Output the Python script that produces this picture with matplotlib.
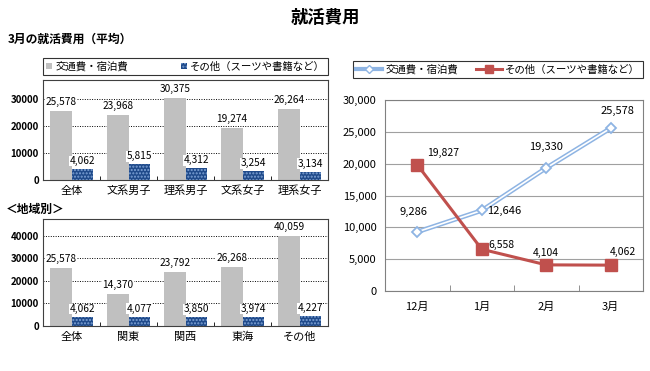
import numpy as np
import matplotlib
matplotlib.use('Agg')
import matplotlib.pyplot as plt
from matplotlib.lines import Line2D
from matplotlib.patches import Patch

plt.rcParams['font.family'] = ['Noto Sans CJK JP', 'DejaVu Sans']
plt.rcParams['hatch.linewidth'] = 1.0

# data
cats_top = ['全体', '文系男子', '理系男子', '文系女子', '理系女子']
travel_top = [25578, 23968, 30375, 19274, 26264]
other_top = [4062, 5815, 4312, 3254, 3134]

cats_reg = ['全体', '関東', '関西', '東海', 'その他']
travel_reg = [25578, 14370, 23792, 26268, 40059]
other_reg = [4062, 4077, 3850, 3974, 4227]

months = ['12月', '1月', '2月', '3月']
travel_m = [9286, 12646, 19330, 25578]
other_m = [19827, 6558, 4104, 4062]

lab_travel = '交通費・宿泊費'
lab_other = 'その他（スーツや書籍など）'

W, H = 650, 371
def rect(l, t, r, b):
    return [l / W, 1 - b / H, (r - l) / W, (b - t) / H]

gray = '#C0C0C0'
navy = '#1F4A8A'
dots = '#7FA3D6'
red = '#C0504D'
lblue = '#8EB4E3'

fig = plt.figure(figsize=(6.5, 3.71), dpi=100)
fig.patch.set_facecolor('white')

fig.text(0.5, 1 - 18 / H, '就活費用', ha='center', va='center', fontsize=12.5, fontweight='bold')
fig.text(8 / W, 1 - 39 / H, '3月の就活費用（平均）', ha='left', va='center', fontsize=8.5, fontweight='bold')
fig.text(6 / W, 1 - 209 / H, '＜地域別＞', ha='left', va='center', fontsize=8.5, fontweight='bold')

def bar_panel(ax, cats, a, b, ymax, ticks):
    x = np.arange(len(cats))
    w = 0.37
    ax.bar(x - w / 2, a, w, color=gray, zorder=2)
    ax.bar(x + w / 2, b, w, color=navy, edgecolor=dots, hatch='.....', linewidth=0, zorder=2)
    for xi, v in zip(x, a):
        ax.annotate(f'{v:,}', (xi - w / 2, v), xytext=(0, 4), textcoords='offset pixels',
                    ha='center', va='bottom', fontsize=7.3, annotation_clip=False,
                    bbox=dict(facecolor='white', edgecolor='none', pad=0.2), zorder=3)
    for xi, v in zip(x, b):
        ax.annotate(f'{v:,}', (xi + w / 2, v), xytext=(0, 3), textcoords='offset pixels',
                    ha='center', va='bottom', fontsize=7.3,
                    bbox=dict(facecolor='white', edgecolor='none', pad=0.2), zorder=3)
    ax.set_xlim(-0.5, len(cats) - 0.5)
    ax.set_ylim(0, ymax)
    ax.set_yticks(ticks)
    ax.set_yticklabels([str(t) for t in ticks], fontsize=7, fontweight='bold')
    ax.set_xticks(x)
    ax.set_xticklabels(cats, fontsize=8)
    ax.set_xticks(np.arange(0.5, len(cats) - 0.5), minor=True)
    ax.tick_params(axis='x', which='major', length=0, pad=4)
    ax.tick_params(axis='x', which='minor', length=3, direction='in')
    ax.tick_params(axis='y', length=0, pad=3)
    ax.grid(axis='y', linestyle=(0, (1, 1.5)), color='black', linewidth=0.7, zorder=0)
    for s in ax.spines.values():
        s.set_color('#404040')
        s.set_linewidth(0.8)

ax1 = fig.add_axes(rect(43, 80, 328, 180))
bar_panel(ax1, cats_top, travel_top, other_top, 37000, [0, 10000, 20000, 30000])

ax2 = fig.add_axes(rect(43, 219, 328, 326))
bar_panel(ax2, cats_reg, travel_reg, other_reg, 47500, [0, 10000, 20000, 30000, 40000])

h1 = [Patch(facecolor=gray), Patch(facecolor=navy, edgecolor=dots, hatch='.....', linewidth=0)]
leg1 = fig.legend(h1, [lab_travel, lab_other], loc='center', ncol=2,
                  bbox_to_anchor=rect(43, 57, 328, 76), mode='expand', fontsize=7.5,
                  frameon=True, fancybox=False, edgecolor='black', borderaxespad=0,
                  handlelength=0.6, handleheight=0.6, handletextpad=0.3, borderpad=0.3)
leg1.get_frame().set_linewidth(0.8)

# line chart
ax3 = fig.add_axes(rect(385, 100, 643, 291))
xm = np.arange(len(months))
ax3.plot(xm, travel_m, color=lblue, lw=3.4, zorder=3)
ax3.plot(xm, travel_m, color='white', lw=1.2, zorder=4)
ax3.plot(xm, travel_m, linestyle='none', marker='D', markersize=5.5, markerfacecolor='white',
         markeredgecolor=lblue, markeredgewidth=1.3, zorder=5)
ax3.plot(xm, other_m, color=red, lw=2.2, marker='s', markersize=8, zorder=5)

t_off = [(-4, 20), (22, 0), (0, 21), (7, 17)]
for xi, v, (dx, dy) in zip(xm, travel_m, t_off):
    ax3.annotate(f'{v:,}', (xi, v), xytext=(dx, dy), textcoords='offset pixels',
                 ha='center', va='center', fontsize=8)
o_off = [(26, 12), (20, 4), (0, 12), (12, 13)]
for xi, v, (dx, dy) in zip(xm, other_m, o_off):
    ax3.annotate(f'{v:,}', (xi, v), xytext=(dx, dy), textcoords='offset pixels',
                 ha='center', va='center', fontsize=7.5)

ax3.set_xlim(-0.5, 3.5)
ax3.set_ylim(0, 30000)
ax3.set_yticks(np.arange(0, 30001, 5000))
ax3.set_yticklabels([f'{t:,}' for t in range(0, 30001, 5000)], fontsize=8)
ax3.set_xticks(xm)
ax3.set_xticklabels(months, fontsize=8)
ax3.set_xticks([0.5, 1.5, 2.5], minor=True)
ax3.tick_params(axis='x', which='major', length=0, pad=8)
ax3.tick_params(axis='x', which='minor', length=4, direction='in', color='#808080')
ax3.tick_params(axis='y', length=0, pad=6)
ax3.grid(axis='y', color='#A0A0A0', linewidth=0.8, zorder=0)
for s in ax3.spines.values():
    s.set_color('#808080')
    s.set_linewidth(0.8)

h3 = [Line2D([], [], color=lblue, lw=3, marker='D', markersize=4, markerfacecolor='white',
             markeredgecolor=lblue),
      Line2D([], [], color=red, lw=2.2, marker='s', markersize=6)]
leg3 = fig.legend(h3, [lab_travel, lab_other], loc='center', ncol=2,
                  bbox_to_anchor=rect(353, 59, 643, 80), mode='expand', fontsize=7.5,
                  frameon=True, fancybox=False, edgecolor='black', borderaxespad=0,
                  handlelength=2.5, handletextpad=0.3, borderpad=0.3)
leg3.get_frame().set_linewidth(0.8)

fig.savefig('out.png', dpi=100, facecolor='white')
